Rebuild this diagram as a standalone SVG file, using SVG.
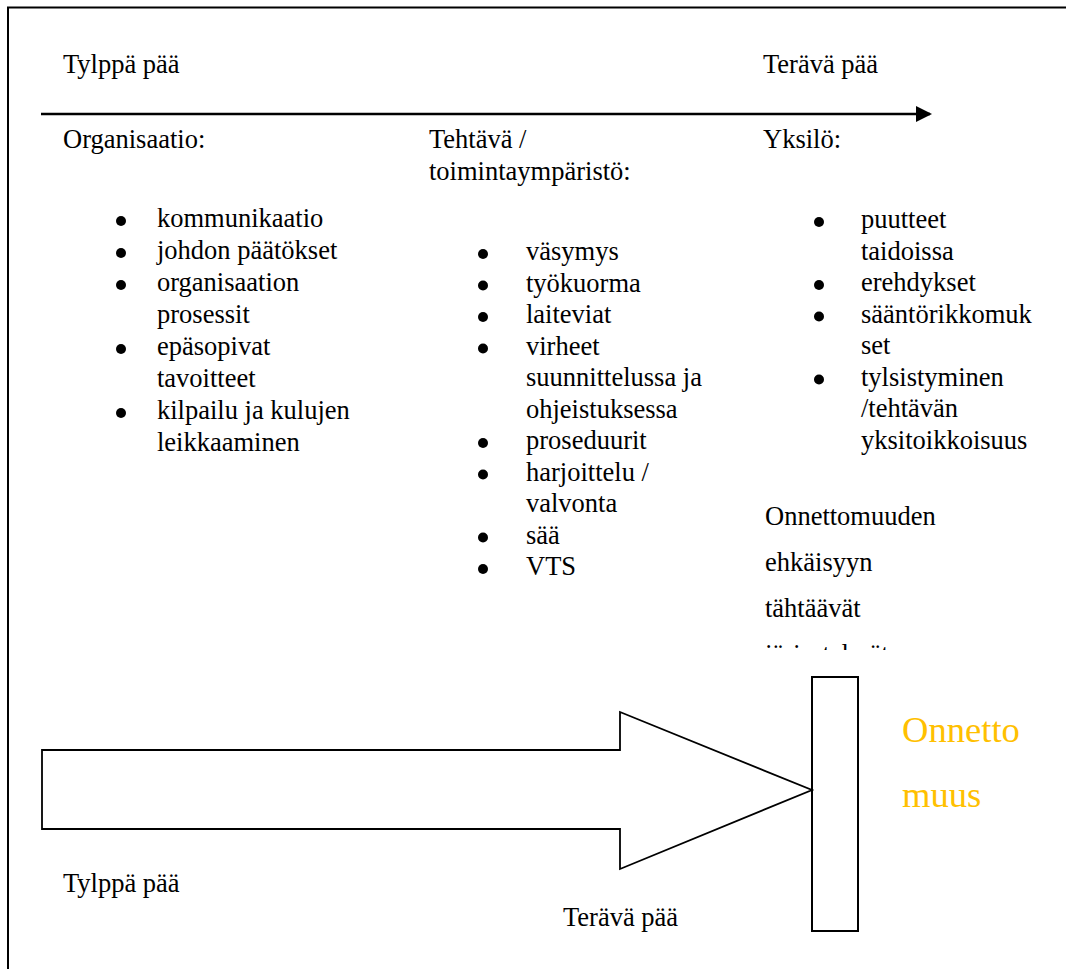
<svg xmlns="http://www.w3.org/2000/svg" width="1066" height="969" viewBox="0 0 1066 969">
<style>
text{font-size:26.5px;fill:#000}
.b{fill:#000}
.ln{fill:none;stroke:#000}
.acc{fill:#FFC000;font-size:36.6px}
</style>
<defs>
<marker id="ah" markerWidth="16" markerHeight="16" refX="14" refY="8" orient="auto" markerUnits="userSpaceOnUse">
<path d="M0,0 L16,8 L0,16 Z" fill="#000"/>
</marker>
<clipPath id="clipPrev"><rect x="740" y="480" width="200" height="170"/></clipPath>
</defs>
<rect width="1066" height="969" fill="#fff"/>
<path id="frame" class="ln" stroke-width="2" d="M8,969 V7.5 H1066"/>

<g id="connectors">
<line class="ln" stroke-width="2.5" x1="41" y1="114" x2="930" y2="114" marker-end="url(#ah)"/>
</g>

<g font-family="Liberation Serif, Times New Roman, DejaVu Serif, serif">
<g id="top-labels">
<text x="63" y="73">Tylppä pää</text>
<text x="763" y="73">Terävä pää</text>
</g>

<g id="col-organisaatio">
<text x="63" y="148">Organisaatio:</text>
<circle class="b" cx="121" cy="221" r="5"/>
<text x="157" y="227">kommunikaatio</text>
<circle class="b" cx="121" cy="253" r="5"/>
<text x="157" y="259">johdon päätökset</text>
<circle class="b" cx="121" cy="285" r="5"/>
<text x="157" y="291">organisaation</text>
<text x="157" y="323">prosessit</text>
<circle class="b" cx="121" cy="349" r="5"/>
<text x="157" y="355">epäsopivat</text>
<text x="157" y="387">tavoitteet</text>
<circle class="b" cx="121" cy="413" r="5"/>
<text x="157" y="419">kilpailu ja kulujen</text>
<text x="157" y="451">leikkaaminen</text>
</g>

<g id="col-tehtava">
<text x="429" y="148">Tehtävä /</text>
<text x="429" y="180">toimintaympäristö:</text>
<circle class="b" cx="483" cy="254" r="5"/>
<text x="526" y="260">väsymys</text>
<circle class="b" cx="483" cy="285.5" r="5"/>
<text x="526" y="291.5">työkuorma</text>
<circle class="b" cx="483" cy="317" r="5"/>
<text x="526" y="323">laiteviat</text>
<circle class="b" cx="483" cy="348.5" r="5"/>
<text x="526" y="354.5">virheet</text>
<text x="526" y="386">suunnittelussa ja</text>
<text x="526" y="417.5">ohjeistuksessa</text>
<circle class="b" cx="483" cy="443" r="5"/>
<text x="526" y="449">proseduurit</text>
<circle class="b" cx="483" cy="474.5" r="5"/>
<text x="526" y="480.5">harjoittelu /</text>
<text x="526" y="512">valvonta</text>
<circle class="b" cx="483" cy="537.5" r="5"/>
<text x="526" y="543.5">sää</text>
<circle class="b" cx="483" cy="569" r="5"/>
<text x="526" y="575">VTS</text>
</g>

<g id="col-yksilo">
<text x="763" y="148">Yksilö:</text>
<circle class="b" cx="819" cy="222" r="5"/>
<text x="861" y="228">puutteet</text>
<text x="861" y="259.5">taidoissa</text>
<circle class="b" cx="819" cy="285" r="5"/>
<text x="861" y="291">erehdykset</text>
<circle class="b" cx="819" cy="316.5" r="5"/>
<text x="861" y="322.5">sääntörikkomuk</text>
<text x="861" y="354">set</text>
<circle class="b" cx="819" cy="379.5" r="5"/>
<text x="861" y="385.5">tylsistyminen</text>
<text x="861" y="417">/tehtävän</text>
<text x="861" y="448.5">yksitoikkoisuus</text>
</g>

<g id="prevention-text" clip-path="url(#clipPrev)">
<text x="765" y="525">Onnettomuuden</text>
<text x="765" y="571">ehkäisyyn</text>
<text x="765" y="617">tähtäävät</text>
<text x="765" y="663">järjestelmät</text>
</g>

<g id="big-arrow">
<path class="ln" stroke-width="1.8" fill="#fff" d="M42,750 H620 V712 L812,790 L620,869 V829 H42 Z"/>
</g>

<g id="barrier">
<rect class="ln" stroke-width="2" x="812" y="677" width="46" height="254"/>
</g>

<g id="accident">
<text class="acc" x="902" y="742">Onnetto</text>
<text class="acc" x="902" y="807">muus</text>
</g>

<g id="bottom-labels">
<text x="63" y="892">Tylppä pää</text>
<text x="563" y="926">Terävä pää</text>
</g>
</g>
</svg>
